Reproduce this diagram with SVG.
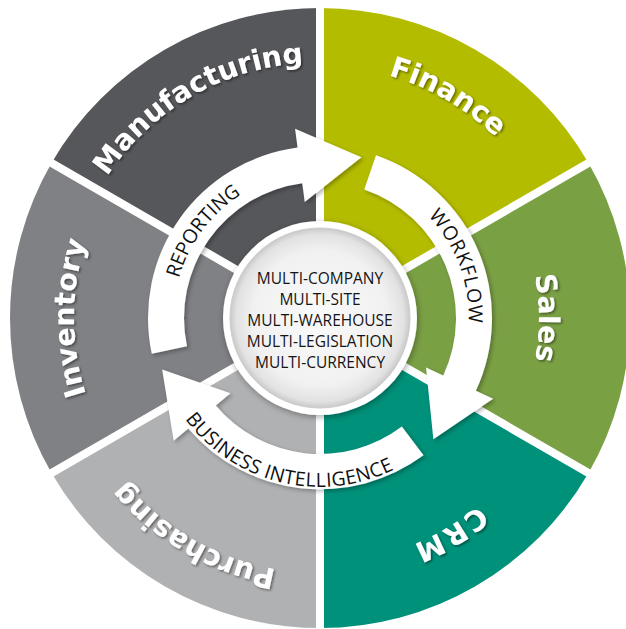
<svg xmlns="http://www.w3.org/2000/svg" width="626" height="629" viewBox="0 0 626 629">
<style>
.lbl{font-family:"DejaVu Sans","Liberation Sans",sans-serif;font-weight:bold;font-size:28.5px;fill:#ffffff;filter:url(#tsh)}
.alb{font-family:"Open Sans","Liberation Sans",sans-serif;font-weight:500;font-size:19.5px;fill:#111111}
.ctr{font-family:"Open Sans","Liberation Sans",sans-serif;font-weight:500;font-size:15.5px;fill:#151515;text-anchor:middle}
.arrow{fill:#ffffff;filter:url(#ash)}
.div{stroke:#ffffff;stroke-width:8;fill:none}
</style>
<defs>
<filter id="tsh" x="-10%" y="-20%" width="130%" height="150%">
<feDropShadow dx="1.5" dy="1.5" stdDeviation="1" flood-color="#000" flood-opacity="0.45"/>
</filter>
<filter id="ash" x="-10%" y="-10%" width="130%" height="130%">
<feDropShadow dx="2" dy="2" stdDeviation="2" flood-color="#000" flood-opacity="0.3"/>
</filter>
<filter id="dsh" x="-20%" y="-20%" width="140%" height="140%">
<feDropShadow dx="1" dy="2" stdDeviation="3" flood-color="#000" flood-opacity="0.35"/>
</filter>
<radialGradient id="disc" cx="50%" cy="50%" r="50%">
<stop offset="0" stop-color="#fafafa"/>
<stop offset="0.75" stop-color="#f1f1f1"/>
<stop offset="0.93" stop-color="#e2e2e2"/>
<stop offset="1" stop-color="#c9c9c9"/>
</radialGradient>
<path id="p-man" d="M448,539.7 A256,256 0 0 1 192,96.3 A256,256 0 0 1 448,539.7"/>
<path id="p-fin" d="M194,536.24 A252,252 0 0 1 446,99.76 A252,252 0 0 1 194,536.24"/>
<path id="p-sal" d="M101,318 A219,219 0 0 1 539,318 A219,219 0 0 1 101,318"/>
<path id="p-crm" d="M193.82,107.99 A245,245 0 0 1 446.18,528.01 A245,245 0 0 1 193.82,107.99"/>
<path id="p-pur" d="M447.5,97.16 A255,255 0 0 1 192.5,538.84 A255,255 0 0 1 447.5,97.16"/>
<path id="p-inv" d="M566,318 A246,246 0 0 1 74,318 A246,246 0 0 1 566,318"/>
<path id="p-rep" d="M437.69,405.41 A146.6,146.6 0 0 1 202.31,230.59 A146.6,146.6 0 0 1 437.69,405.41"/>
<path id="p-wf" d="M180.44,370.18 A149,149 0 0 1 459.56,265.82 A149,149 0 0 1 180.44,370.18"/>
<path id="p-bi" d="M359.45,153.67 A169,169 0 0 0 280.55,482.33 A169,169 0 0 0 359.45,153.67"/>
</defs>

<g id="manufacturing">
<path d="M320,318 L51.53,163 A310,310 0 0 1 320,8 Z" fill="#56575b"/>
<text class="lbl" text-anchor="middle"><textPath href="#p-man" startOffset="50%">Manufacturing</textPath></text>
</g>
<g id="finance">
<path d="M320,318 L320,8 A310,310 0 0 1 588.47,163 Z" fill="#b4bc00"/>
<text class="lbl" text-anchor="middle"><textPath href="#p-fin" startOffset="50%">Finance</textPath></text>
</g>
<g id="sales">
<path d="M320,318 L588.47,163 A310,310 0 0 1 588.47,473 Z" fill="#7aa044"/>
<text class="lbl" text-anchor="middle"><textPath href="#p-sal" startOffset="50%">Sales</textPath></text>
</g>
<g id="crm">
<path d="M320,318 L588.47,473 A310,310 0 0 1 320,628 Z" fill="#00917a"/>
<text class="lbl" text-anchor="middle" letter-spacing="2.5"><textPath href="#p-crm" startOffset="50%">CRM</textPath></text>
</g>
<g id="purchasing">
<path d="M320,318 L320,628 A310,310 0 0 1 51.53,473 Z" fill="#b0b1b3"/>
<text class="lbl" text-anchor="middle"><textPath href="#p-pur" startOffset="50%">Purchasing</textPath></text>
</g>
<g id="inventory">
<path d="M320,318 L51.53,473 A310,310 0 0 1 51.53,163 Z" fill="#808184"/>
<text class="lbl" text-anchor="middle"><textPath href="#p-inv" startOffset="50%">Inventory</textPath></text>
</g>

<g id="dividers">
<line class="div" x1="320" y1="318" x2="320" y2="0"/>
<line class="div" x1="320" y1="318" x2="320" y2="629"/>
<line class="div" x1="320" y1="318" x2="597.1" y2="158"/>
<line class="div" x1="320" y1="318" x2="597.1" y2="478"/>
<line class="div" x1="320" y1="318" x2="42.9" y2="158"/>
<line class="div" x1="320" y1="318" x2="42.9" y2="478"/>
</g>

<g id="connectors">
<g id="arrow-reporting">
<path class="arrow" d="M151.76,353.76 A172,172 0 0 1 297.55,147.47 L295.07,128.63 L361.4,157.2 L304.73,202 L302.25,183.16 A136,136 0 0 0 186.97,346.28 Z"/>
<text class="alb" text-anchor="middle"><textPath href="#p-rep" startOffset="50%">REPORTING</textPath></text>
</g>
<g id="arrow-workflow">
<path class="arrow" d="M376,155.37 A172,172 0 0 1 475.89,390.69 L493.1,398.72 L433.37,439.27 L426.04,367.45 L443.26,375.48 A136,136 0 0 0 364.28,189.41 Z"/>
<text class="alb" text-anchor="middle" letter-spacing="1"><textPath href="#p-wf" startOffset="50%">WORKFLOW</textPath></text>
</g>
<g id="arrow-bi">
<path class="arrow" d="M423.51,455.37 A174,174 0 0 1 188.24,428.56 L173.69,440.77 L162.18,369.5 L230.37,393.21 L215.82,405.42 A136,136 0 0 0 401.85,426.62 Z"/>
<text class="alb" text-anchor="middle" letter-spacing="0.4"><textPath href="#p-bi" startOffset="50%">BUSINESS INTELLIGENCE</textPath></text>
</g>
</g>

<g id="center">
<circle cx="320" cy="318" r="97" fill="#ffffff" filter="url(#dsh)"/>
<circle cx="320" cy="318" r="90" fill="url(#disc)" stroke="#cccccc" stroke-width="1"/>
<text class="ctr" x="320" y="283.5">MULTI-COMPANY</text>
<text class="ctr" x="320" y="304.5">MULTI-SITE</text>
<text class="ctr" x="320" y="325.5">MULTI-WAREHOUSE</text>
<text class="ctr" x="320" y="346.5">MULTI-LEGISLATION</text>
<text class="ctr" x="320" y="367.5">MULTI-CURRENCY</text>
</g>
</svg>
